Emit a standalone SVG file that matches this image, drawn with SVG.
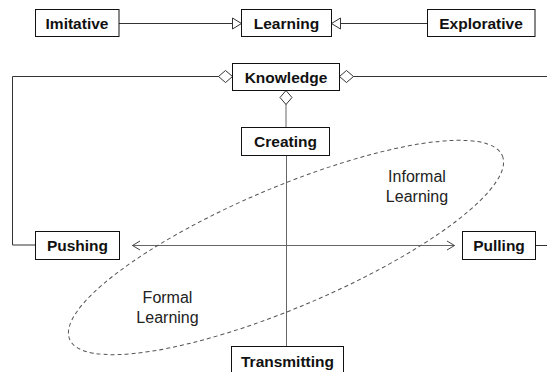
<svg xmlns="http://www.w3.org/2000/svg" width="547" height="372" viewBox="0 0 547 372">
<style>
.box{fill:#fff;stroke:#111;stroke-width:1}
.lbl{font-family:"Liberation Sans",Arial,sans-serif;font-weight:bold;font-size:15.5px;fill:#111;text-anchor:middle}
.note{font-family:"Liberation Sans",Arial,sans-serif;font-size:16px;fill:#222;text-anchor:middle}
.con{fill:none;stroke:#333;stroke-width:1}
.gray{stroke:#666}
.region{fill:none;stroke:#555;stroke-width:1;stroke-dasharray:4 3}
</style>
<defs>
<marker id="diamond" markerUnits="userSpaceOnUse" markerWidth="17" markerHeight="14" refX="15" refY="7" orient="auto">
<path d="M1,7 L8,1 L15,7 L8,13 Z" fill="#fff" stroke="#333" stroke-width="1"/>
</marker>
<marker id="tri" markerUnits="userSpaceOnUse" markerWidth="12" markerHeight="13" refX="10" refY="6.5" orient="auto">
<path d="M1,1 L10,6.5 L1,12 Z" fill="#fff" stroke="#333" stroke-width="1"/>
</marker>
<marker id="open" markerUnits="userSpaceOnUse" markerWidth="10" markerHeight="11" refX="8.5" refY="5.5" orient="auto-start-reverse">
<path d="M1,1 L8.5,5.5 L1,10" fill="none" stroke="#444" stroke-width="1"/>
</marker>
</defs>
<g id="connectors">
<path class="con" d="M119,23.5 H241.5" marker-end="url(#tri)"/>
<path class="con" d="M427.5,23.5 H331.5" marker-end="url(#tri)"/>
<path class="con" d="M35.5,245 H12.5 V76.5 H232.5" marker-end="url(#diamond)"/>
<path class="con" d="M547,76.5 H339.5" marker-end="url(#diamond)"/>
<path class="con" d="M535.5,245.5 H547"/>
<path class="con gray" d="M286,127.5 V90.5" marker-end="url(#diamond)"/>
<path class="con gray" d="M286.5,155.5 V346.5"/>
<path class="con gray" d="M132.5,245.5 H454.5" marker-start="url(#open)" marker-end="url(#open)"/>
</g>
<g id="region-informal-formal">
<ellipse class="region" cx="286" cy="247.5" rx="235" ry="60" transform="rotate(-23 286 247.5)"/>
<text class="note" x="417" y="181.5">Informal</text>
<text class="note" x="417" y="201.5">Learning</text>
<text class="note" x="167.5" y="302.5">Formal</text>
<text class="note" x="167.5" y="322.5">Learning</text>
</g>
<g id="node-imitative"><rect class="box" x="35.5" y="9.5" width="83.5" height="27"/><text class="lbl" x="77" y="28.5">Imitative</text></g>
<g id="node-learning"><rect class="box" x="241.5" y="9.5" width="90" height="27"/><text class="lbl" x="286.5" y="28.5">Learning</text></g>
<g id="node-explorative"><rect class="box" x="427.5" y="9.5" width="107.5" height="27"/><text class="lbl" x="481" y="28.5">Explorative</text></g>
<g id="node-knowledge"><rect class="box" x="232.5" y="63.5" width="107" height="27"/><text class="lbl" x="286" y="82.5">Knowledge</text></g>
<g id="node-creating"><rect class="box" x="241.5" y="127.5" width="88" height="28"/><text class="lbl" x="285.5" y="147">Creating</text></g>
<g id="node-pushing"><rect class="box" x="35.5" y="231.5" width="84" height="28"/><text class="lbl" x="77.5" y="251">Pushing</text></g>
<g id="node-pulling"><rect class="box" x="462.5" y="231.5" width="73" height="28"/><text class="lbl" x="499" y="251">Pulling</text></g>
<g id="node-transmitting"><rect class="box" x="231.5" y="346.5" width="112" height="30"/><text class="lbl" x="287.5" y="366.5">Transmitting</text></g>
</svg>
